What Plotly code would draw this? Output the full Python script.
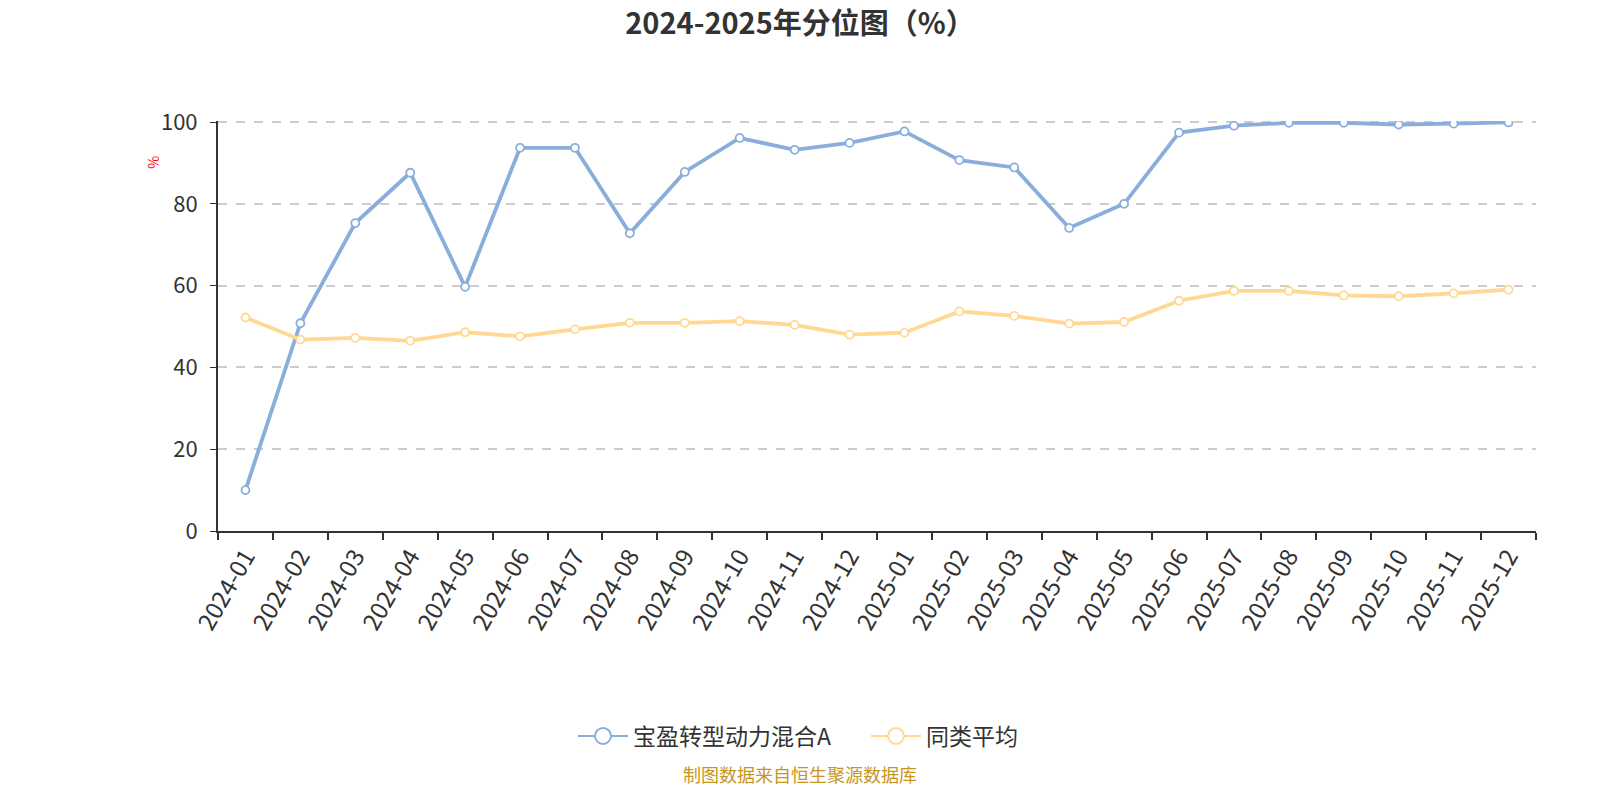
import plotly.graph_objects as go

months = ["2024-01","2024-02","2024-03","2024-04","2024-05","2024-06","2024-07","2024-08",
          "2024-09","2024-10","2024-11","2024-12","2025-01","2025-02","2025-03","2025-04",
          "2025-05","2025-06","2025-07","2025-08","2025-09","2025-10","2025-11","2025-12"]
fund_name = "宝盈转型动力混合A"
fund_vals = [10.0, 50.8, 75.3, 87.6, 59.7, 93.7, 93.7, 72.8, 87.8, 96.1, 93.2, 94.9,
             97.7, 90.7, 88.9, 74.1, 80.0, 97.4, 99.1, 99.8, 99.8, 99.4, 99.6, 99.9]
avg_name = "同类平均"
avg_vals = [52.2, 46.8, 47.2, 46.5, 48.6, 47.6, 49.3, 50.9, 50.9, 51.3, 50.4, 48.0,
            48.5, 53.7, 52.6, 50.7, 51.1, 56.3, 58.7, 58.7, 57.6, 57.4, 58.1, 59.0]
y_ticks = [0, 20, 40, 60, 80, 100]

BLUE = "#8aaedc"
YELLOW = "#ffd993"
FONT = "Noto Sans CJK SC"

fig = go.Figure()
for name, vals, col in [(fund_name, fund_vals, BLUE), (avg_name, avg_vals, YELLOW)]:
    fig.add_trace(go.Scatter(
        x=months, y=vals, mode="lines+markers", name=name, showlegend=False,
        legendgroup=name,
        line=dict(color=col, width=3.8),
        marker=dict(size=8, color="white", line=dict(color=col, width=1.8)),
    ))
    fig.add_trace(go.Scatter(
        x=[None], y=[None], mode="lines+markers", name=name, legendgroup=name,
        line=dict(color=col, width=2),
        marker=dict(size=20, color="white", line=dict(color=col, width=2)),
    ))

CX = (800 - 218) / 1318  # paper x for page centre

fig.update_layout(
    width=1600, height=800,
    paper_bgcolor="white", plot_bgcolor="white",
    margin=dict(l=218, r=64, t=121, b=269),
    font=dict(family=FONT, color="#333333"),
    title=dict(text="<b>2024-2025年分位图（%）</b>", x=0.5, xanchor="center",
               y=1 - 24 / 800, yanchor="middle", yref="container",
               font=dict(size=29, color="#333333", family=FONT)),
    legend=dict(orientation="h", x=(573 - 218) / 1318, xanchor="left", y=-0.5, yanchor="middle",
                font=dict(size=23, color="#333333"), itemwidth=50,
                entrywidth=228, entrywidthmode="pixels"),
    xaxis=dict(
        type="category", categoryorder="array", categoryarray=months,
        tickangle=-60, tickfont=dict(size=24, color="#333333"),
        showline=True, linecolor="#333333", linewidth=2,
        ticks="outside", ticklen=7, tickcolor="#333333", tickwidth=1.5,
        tickson="boundaries", showgrid=False, range=[-0.5, 23.5],
    ),
    yaxis=dict(
        range=[0, 100.25], tickvals=y_ticks, tickfont=dict(size=22, color="#333333"),
        showline=True, linecolor="#333333", linewidth=2,
        ticks="outside", ticklen=6, tickcolor="#333333", ticklabelstandoff=8,
        showgrid=True, gridcolor="#cccccc", griddash="dash", gridwidth=1.5,
        zeroline=False,
    ),
    annotations=[
        dict(text="%", x=-0.058, y=0.92, xref="paper", yref="paper", showarrow=False,
             textangle=-90, font=dict(size=14, color="red", family=FONT)),
        dict(text="制图数据来自恒生聚源数据库", x=CX, y=-0.629, xref="paper", yref="paper",
             showarrow=False, font=dict(size=18, color="#c8961e", family=FONT)),
    ],
)

fig.write_html("out.html")
